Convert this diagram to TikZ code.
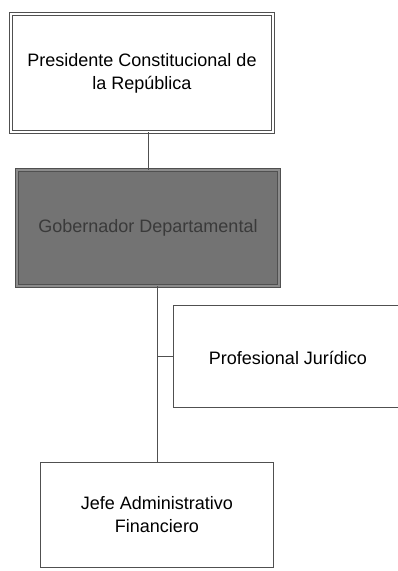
\documentclass[tikz,border=0pt]{standalone}
\usepackage{fontspec}
\setmainfont{Liberation Sans}
\usetikzlibrary{calc}

\definecolor{gobfill}{RGB}{115,115,115}
\definecolor{gobtext}{RGB}{58,58,58}
\definecolor{linea}{RGB}{80,80,80}

\tikzset{
 cargo/.style={draw=linea, line width=.9pt, fill=white, align=center,
   font=\fontsize{18}{23}\selectfont, inner sep=0pt},
 cargodoble/.style={cargo, double=white, double distance=2.2pt, line width=.8pt},
 enlace/.style={draw=linea, line width=.8pt},
}

\begin{document}
\begin{tikzpicture}[x=1pt,y=-1pt]
\useasboundingbox (0,0) rectangle (398,571);
\clip (0,0) rectangle (398,571);
% cargos
\node[cargodoble, minimum width=262pt, minimum height=118pt] (pres) at (142,73)
  {Presidente Constitucional de\\la República};
\node[cargodoble, fill=gobfill, double=black!45, text=gobtext,
  minimum width=262pt, minimum height=116pt] (gob) at (148,228) {Gobernador Departamental};
\node[cargo, minimum width=240pt, minimum height=102pt] (prof) at (293,356) {};
\node[font=\fontsize{18}{23}\selectfont] (proftxt) at (288,358) {Profesional Jurídico};
\node[cargo, minimum width=233pt, minimum height=105pt] (jefe) at (157,515)
  {Jefe Administrativo\\Financiero};
% lineas
\draw[enlace] (gob.north) -- (gob.north |- pres.south);
\draw[enlace] (jefe.north) -- (gob.south -| jefe.north);
\draw[enlace] (prof.west) -- (prof.west -| jefe.north);
\end{tikzpicture}
\end{document}
